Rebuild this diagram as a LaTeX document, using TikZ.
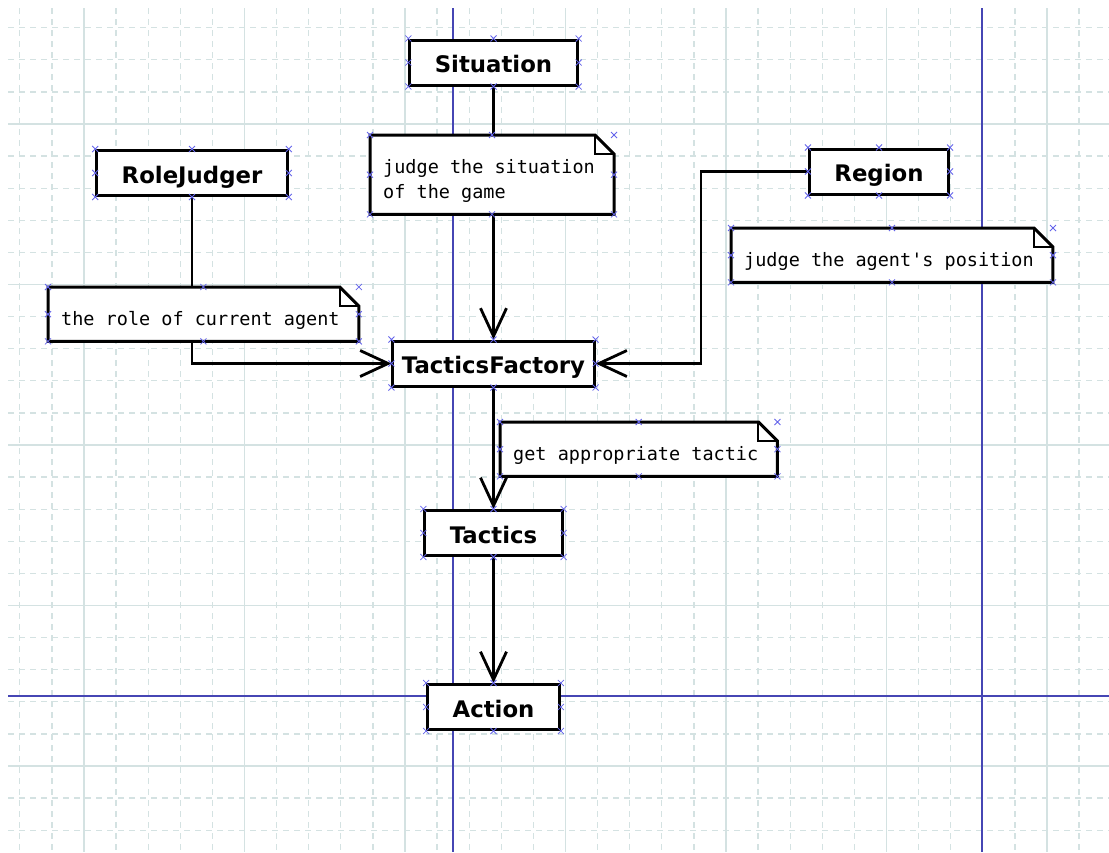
\documentclass[tikz,border=0pt]{standalone}
\usepackage{fontspec}
\usetikzlibrary{calc,arrows.meta}
\newfontfamily\boxfont{DejaVu Sans}
\newfontfamily\notefont{DejaVu Sans Mono}
\definecolor{gridcol}{RGB}{212,226,226}
\definecolor{pagecol}{RGB}{70,70,180}
\definecolor{markcol}{RGB}{100,100,235}
\pgfdeclarelayer{back}
\pgfdeclarelayer{paper}
\pgfsetlayers{back,paper,main}
\tikzset{>={Straight Barb[length=28pt,width=26pt]},
  box/.style={draw,line width=3pt,fill=white,font=\boxfont\bfseries\fontsize{22.8}{27}\selectfont,
    inner xsep=25pt,minimum height=45pt,text height=20pt,text depth=0pt},
  note/.style={anchor=north west,font=\notefont\fontsize{18.5}{25}\selectfont,align=left,
    inner xsep=13pt,inner ysep=11.7pt,text height=26.3pt,text depth=4.3pt},
  link/.style={line width=2.8pt,->},
  crossmark/.style={markcol,line width=0.8pt}}
\newcommand\crossmarks[2]{%
  \foreach \u/\v in {0/0,.5/0,1/0,0/.5,1/.5,0/1,.5/1,1/1}{
    \coordinate (mx) at ($(#1)!\u!(#2)$);
    \coordinate (my) at ($(#1)!\v!(#2)$);
    \draw[crossmark] (mx |- my) ++(-3,-3) -- ++(6,6) ++(-6,0) -- ++(6,-6);
  }}
\newcommand\noteframe[1]{%
  \coordinate (#1-ne) at ([xshift=6pt]#1.north east);
  \coordinate (#1-se) at ([xshift=6pt]#1.south east);
  \begin{pgfonlayer}{paper}
    \fill[white] (#1.north west) -- ([xshift=-19pt]#1-ne) -- ([yshift=-19pt]#1-ne) -- (#1-se) -- (#1.south west) -- cycle;
  \end{pgfonlayer}
  \draw[line width=3pt] (#1.north west) -- ([xshift=-19pt]#1-ne) -- ([yshift=-19pt]#1-ne) -- (#1-se) -- (#1.south west) -- cycle;
  \draw[line width=2pt] ([xshift=-19pt]#1-ne) |- ([yshift=-19pt]#1-ne);
  \crossmarks{#1.south west}{#1-ne}}

\begin{document}
\begin{tikzpicture}[x=1pt,y=-1pt]
\useasboundingbox (0,0) rectangle (1109,852);
\begin{pgfonlayer}{back}
\fill[white] (0,0) rectangle (1109,852);
\foreach \i in {0,...,33}
  \draw[gridcol,line width=1.3pt,dash pattern=on 6pt off 5pt] (19.8+32.1*\i,8) -- (19.8+32.1*\i,852);
\foreach \j in {0,...,25}
  \draw[gridcol,line width=1.3pt,dash pattern=on 6pt off 5pt] (8,27.7+32.1*\j) -- (1109,27.7+32.1*\j);
\foreach \i in {0,...,6}
  \draw[gridcol,line width=1.6pt] (84+160.5*\i,8) -- (84+160.5*\i,852);
\foreach \j in {0,...,4}
  \draw[gridcol,line width=1.6pt] (8,124+160.5*\j) -- (1109,124+160.5*\j);
\draw[pagecol,line width=1.6pt] (453,8) -- (453,852) (982,8) -- (982,852) (8,696) -- (1109,696);
\end{pgfonlayer}

\node[box] (sit) at (493.5,62.5) {Situation};
\node[box] (rj) at (192,173) {RoleJudger};
\node[box] (rg) at (879,171.5) {Region};
\node[box,inner xsep=9pt] (tf) at (493.5,363.5) {TacticsFactory};
\node[box] (tac) at (493.5,533) {Tactics};
\node[box] (act) at (493.5,707) {Action};

\node[note,text height=51.3pt] (nsit) at (370,135) {judge the situation\\of the game};
\node[note] (nrj) at (48,287) {the role of current agent};
\node[note] (nrg) at (731,228) {judge the agent\textquotesingle s position};
\node[note] (ntac) at (500,422) {get appropriate tactic};
\noteframe{nsit}
\noteframe{nrj}
\noteframe{nrg}
\noteframe{ntac}

\begin{pgfonlayer}{back}
\draw[link] (sit) -- (tf);
\draw[link] (rj) |- (tf);
\draw[link] (rg.west) -- ++(-107,0) |- (tf);
\draw[link] (tf) -- (tac);
\draw[link] (tac) -- (act);
\end{pgfonlayer}

\foreach \n in {sit,rj,rg,tf,tac,act}
  \crossmarks{\n.south west}{\n.north east};
\end{tikzpicture}
\end{document}
